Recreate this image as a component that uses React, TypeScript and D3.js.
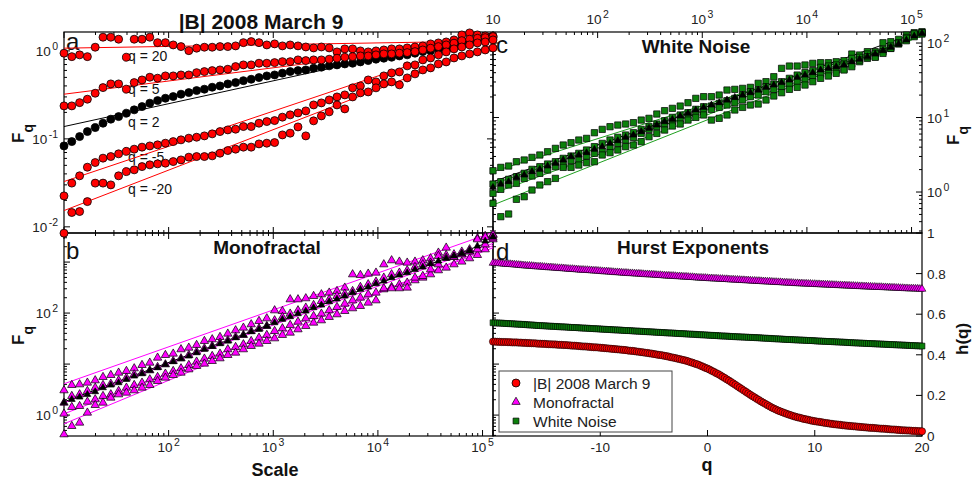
import React from "react";
import * as d3 from "d3";

// ---------- data ----------
const scales = [10, 11.87, 14.1, 16.73, 19.87, 23.59, 28.02, 33.26, 39.49, 46.89, 55.68, 66.07, 78.43, 93.12, 110.6, 131.3, 155.9, 185.1, 219.7, 260.9, 309.7, 367.7, 436.5, 518.2, 615.3, 730.5, 867.3, 1030, 1223, 1451, 1723, 2046, 2429, 2884, 3424, 4065, 4826, 5730, 6803, 8077, 9590, 11386, 13517, 16049, 19055, 22618, 26856, 31886, 37857, 44947, 53364, 63358, 75223, 89316, 106040, 125893];

// panel a: |B| 2008 March 9, log10 F_q
const aQ20 = [-0.026, -0.065, -0.045, -0.065, 0.042, 0.156, 0.156, 0.133, -0.072, 0.133, 0.133, 0.156, 0.094, 0.094, 0.068, 0.049, 0.003, 0.031, 0.042, 0.042, 0.049, 0.049, 0.057, 0.094, 0.106, 0.094, 0.068, 0.080, 0.057, 0.068, 0.057, 0.045, 0.034, 0.045, 0.034, -0.011, 0.023, 0.023, 0.000, -0.011, 0.000, 0.011, 0.023, 0.023, 0.034, 0.045, 0.057, 0.080, 0.091, 0.102, 0.125, 0.182, 0.205, 0.182, 0.170, 0.170];
const aQ5 = [-0.625, -0.625, -0.588, -0.549, -0.481, -0.417, -0.375, -0.375, -0.435, -0.360, -0.330, -0.299, -0.310, -0.284, -0.284, -0.273, -0.273, -0.247, -0.235, -0.224, -0.216, -0.208, -0.178, -0.159, -0.159, -0.140, -0.140, -0.133, -0.122, -0.122, -0.102, -0.110, -0.102, -0.102, -0.094, -0.083, -0.072, -0.065, -0.057, -0.057, -0.045, -0.034, -0.034, -0.026, -0.019, -0.008, 0.011, 0.031, 0.049, 0.068, 0.088, 0.117, 0.133, 0.144, 0.151, 0.163];
const aQ2 = [-1.080, -1.031, -0.974, -0.917, -0.872, -0.822, -0.776, -0.747, -0.708, -0.670, -0.633, -0.594, -0.565, -0.538, -0.519, -0.492, -0.474, -0.451, -0.435, -0.413, -0.398, -0.375, -0.360, -0.338, -0.322, -0.303, -0.284, -0.273, -0.253, -0.235, -0.224, -0.216, -0.197, -0.185, -0.170, -0.159, -0.148, -0.140, -0.125, -0.110, -0.094, -0.083, -0.072, -0.057, -0.045, -0.026, -0.008, 0.003, 0.019, 0.031, 0.049, 0.080, 0.106, 0.125, 0.140, 0.151];
const aQm5 = [-1.648, -1.503, -1.420, -1.322, -1.269, -1.219, -1.201, -1.170, -1.142, -1.117, -1.094, -1.080, -1.068, -1.049, -1.031, -1.011, -0.992, -0.981, -0.966, -0.943, -0.917, -0.898, -0.890, -0.860, -0.860, -0.822, -0.803, -0.792, -0.753, -0.727, -0.705, -0.682, -0.614, -0.591, -0.557, -0.523, -0.500, -0.420, -0.398, -0.330, -0.352, -0.284, -0.250, -0.239, -0.170, -0.159, -0.102, -0.080, -0.045, -0.011, 0.023, 0.045, 0.068, 0.091, 0.102, 0.125];
const aQm20 = [-2.072, -1.837, -1.826, -1.713, -1.503, -1.503, -1.523, -1.420, -1.372, -1.352, -1.315, -1.295, -1.284, -1.276, -1.258, -1.239, -1.208, -1.201, -1.201, -1.193, -1.163, -1.133, -1.117, -1.094, -1.094, -1.057, -1.049, -1.042, -0.955, -0.935, -0.864, -0.966, -0.795, -0.739, -0.693, -0.614, -0.659, -0.523, -0.477, -0.466, -0.420, -0.375, -0.352, -0.386, -0.307, -0.261, -0.216, -0.193, -0.148, -0.125, -0.080, -0.057, -0.034, -0.011, 0.011, 0.034];

// panel b: Monofractal, log10 F_q
const bQ20 = [0.484, 0.588, 0.601, 0.634, 0.680, 0.745, 0.784, 0.830, 0.863, 0.915, 0.980, 1.026, 1.124, 1.176, 1.203, 1.288, 1.320, 1.373, 1.451, 1.484, 1.529, 1.595, 1.660, 1.712, 1.778, 1.843, 1.895, 2.052, 2.039, 2.268, 2.268, 2.288, 2.333, 2.366, 2.399, 2.431, 2.497, 2.758, 2.745, 2.771, 2.791, 2.954, 3.033, 3.007, 2.987, 3.007, 3.033, 3.072, 3.183, 3.281, 3.150, 3.203, 3.248, 3.464, 3.510, 3.542];
const bQ5 = [0.242, 0.373, 0.405, 0.471, 0.536, 0.588, 0.614, 0.680, 0.732, 0.797, 0.830, 0.876, 0.941, 0.993, 1.059, 1.111, 1.176, 1.242, 1.307, 1.353, 1.418, 1.464, 1.529, 1.569, 1.647, 1.699, 1.745, 1.856, 1.922, 1.987, 2.052, 2.105, 2.157, 2.235, 2.268, 2.333, 2.379, 2.431, 2.510, 2.562, 2.614, 2.693, 2.758, 2.791, 2.837, 2.902, 2.954, 2.987, 3.118, 3.137, 3.098, 3.163, 3.216, 3.444, 3.490, 3.529];
const bQ2 = [0.242, 0.307, 0.353, 0.405, 0.458, 0.536, 0.588, 0.634, 0.699, 0.765, 0.810, 0.876, 0.928, 0.993, 1.046, 1.105, 1.157, 1.222, 1.288, 1.346, 1.399, 1.451, 1.516, 1.569, 1.634, 1.680, 1.745, 1.810, 1.876, 1.928, 1.987, 2.039, 2.105, 2.157, 2.222, 2.275, 2.333, 2.399, 2.464, 2.510, 2.575, 2.627, 2.693, 2.745, 2.791, 2.856, 2.902, 2.967, 3.020, 3.072, 3.118, 3.163, 3.216, 3.314, 3.412, 3.490];
const bQm5 = [0.026, 0.157, 0.176, 0.261, 0.307, 0.373, 0.405, 0.471, 0.536, 0.588, 0.634, 0.699, 0.745, 0.810, 0.863, 0.915, 0.980, 1.046, 1.105, 1.157, 1.203, 1.288, 1.333, 1.386, 1.451, 1.516, 1.569, 1.647, 1.699, 1.765, 1.830, 1.895, 1.941, 1.987, 2.052, 2.118, 2.183, 2.248, 2.301, 2.366, 2.399, 2.464, 2.510, 2.562, 2.595, 2.641, 2.693, 2.758, 2.837, 2.889, 2.954, 3.007, 3.072, 3.137, 3.248, 3.444];
const bQm20 = [-0.379, -0.216, -0.150, 0.046, 0.196, 0.242, 0.340, 0.405, 0.438, 0.484, 0.536, 0.588, 0.667, 0.732, 0.784, 0.830, 0.895, 0.961, 1.007, 1.059, 1.111, 1.176, 1.222, 1.288, 1.353, 1.399, 1.451, 1.503, 1.569, 1.614, 1.680, 1.745, 1.810, 1.856, 1.922, 1.974, 2.039, 2.092, 2.137, 2.203, 2.248, 2.484, 2.484, 2.484, 2.497, 2.693, 2.725, 2.856, 2.954, 3.085, 3.098, 3.150, 3.203, 3.248, 3.346, 3.477];

// panel c: White Noise, log10 F_q
const cQ20 = [0.286, 0.331, 0.349, 0.407, 0.430, 0.465, 0.497, 0.541, 0.586, 0.631, 0.662, 0.698, 0.720, 0.796, 0.841, 0.877, 0.899, 0.913, 0.931, 0.966, 0.989, 1.047, 1.092, 1.123, 1.154, 1.199, 1.257, 1.280, 1.280, 1.302, 1.369, 1.378, 1.391, 1.405, 1.459, 1.481, 1.548, 1.660, 1.691, 1.691, 1.705, 1.727, 1.736, 1.736, 1.749, 1.763, 1.852, 1.839, 1.884, 1.884, 2.004, 2.018, 2.049, 2.107, 2.139, 2.152];
const cQ5 = [0.107, 0.139, 0.170, 0.206, 0.251, 0.304, 0.340, 0.376, 0.407, 0.452, 0.483, 0.519, 0.564, 0.609, 0.653, 0.698, 0.734, 0.765, 0.796, 0.841, 0.877, 0.913, 0.957, 1.002, 1.034, 1.065, 1.110, 1.145, 1.154, 1.190, 1.226, 1.257, 1.302, 1.347, 1.369, 1.414, 1.450, 1.481, 1.526, 1.570, 1.602, 1.629, 1.673, 1.691, 1.705, 1.718, 1.794, 1.808, 1.852, 1.861, 1.915, 1.960, 2.004, 2.076, 2.121, 2.139];
const cQ2 = [0.063, 0.107, 0.139, 0.197, 0.228, 0.273, 0.304, 0.349, 0.385, 0.430, 0.474, 0.497, 0.528, 0.573, 0.609, 0.653, 0.689, 0.734, 0.765, 0.810, 0.855, 0.899, 0.944, 0.975, 1.020, 1.056, 1.101, 1.136, 1.168, 1.199, 1.235, 1.271, 1.302, 1.333, 1.369, 1.405, 1.436, 1.468, 1.503, 1.539, 1.570, 1.602, 1.638, 1.660, 1.682, 1.705, 1.749, 1.781, 1.817, 1.852, 1.897, 1.942, 1.987, 2.040, 2.094, 2.130];
const cQm5 = [-0.018, 0.036, 0.094, 0.116, 0.183, 0.215, 0.251, 0.295, 0.340, 0.362, 0.421, 0.430, 0.483, 0.519, 0.541, 0.600, 0.653, 0.698, 0.734, 0.787, 0.841, 0.877, 0.913, 0.944, 0.975, 1.020, 1.056, 1.078, 1.110, 1.136, 1.168, 1.199, 1.235, 1.280, 1.302, 1.347, 1.378, 1.414, 1.450, 1.481, 1.512, 1.548, 1.584, 1.615, 1.638, 1.647, 1.718, 1.749, 1.794, 1.817, 1.884, 1.928, 1.987, 2.031, 2.085, 2.121];
const cQm20 = [-0.152, -0.331, -0.295, -0.098, -0.063, 0.027, 0.094, 0.139, 0.183, 0.331, 0.331, 0.362, 0.394, 0.407, 0.497, 0.528, 0.564, 0.609, 0.631, 0.676, 0.743, 0.787, 0.832, 0.886, 0.913, 0.966, 1.002, 1.034, 0.966, 0.989, 1.034, 1.101, 1.136, 1.168, 1.181, 1.235, 1.289, 1.333, 1.378, 1.405, 1.436, 1.481, 1.526, 1.557, 1.593, 1.638, 1.682, 1.772, 1.817, 1.808, 1.861, 1.928, 1.996, 2.063, 2.121, 2.139];

// fitted lines: log10 F at the smallest scale, and slope (Hurst exponent); order q = 20, 5, 2, -5, -20
const fitQ = ["20", "5", "2", "-5", "-20"];
const aFitStart = [0.031, -0.492, -0.86, -1.485, -1.815];
const aFitSlope = [0.02, 0.15, 0.26, 0.40, 0.46];
const bFitStart = [0.614, 0.241, 0.26, 0.025, -0.171];
const bFitSlope = [0.724, 0.762, 0.771, 0.794, 0.852];
const cFitStart = [0.273, 0.107, 0.139, -0.018, -0.174];
const cFitSlope = [0.443, 0.485, 0.493, 0.515, 0.558];

// panel d: Hurst exponents h(q)
const qValues = [
  -20, -19.8, -19.6, -19.4, -19.2, -19, -18.8, -18.6, -18.4, -18.2,
  -18, -17.8, -17.6, -17.4, -17.2, -17, -16.8, -16.6, -16.4, -16.2,
  -16, -15.8, -15.6, -15.4, -15.2, -15, -14.8, -14.6, -14.4, -14.2,
  -14, -13.8, -13.6, -13.4, -13.2, -13, -12.8, -12.6, -12.4, -12.2,
  -12, -11.8, -11.6, -11.4, -11.2, -11, -10.8, -10.6, -10.4, -10.2,
  -10, -9.8, -9.6, -9.4, -9.2, -9, -8.8, -8.6, -8.4, -8.2,
  -8, -7.8, -7.6, -7.4, -7.2, -7, -6.8, -6.6, -6.4, -6.2,
  -6, -5.8, -5.6, -5.4, -5.2, -5, -4.8, -4.6, -4.4, -4.2,
  -4, -3.8, -3.6, -3.4, -3.2, -3, -2.8, -2.6, -2.4, -2.2,
  -2, -1.8, -1.6, -1.4, -1.2, -1, -0.8, -0.6, -0.4, -0.2,
  0, 0.2, 0.4, 0.6, 0.8, 1, 1.2, 1.4, 1.6, 1.8,
  2, 2.2, 2.4, 2.6, 2.8, 3, 3.2, 3.4, 3.6, 3.8,
  4, 4.2, 4.4, 4.6, 4.8, 5, 5.2, 5.4, 5.6, 5.8,
  6, 6.2, 6.4, 6.6, 6.8, 7, 7.2, 7.4, 7.6, 7.8,
  8, 8.2, 8.4, 8.6, 8.8, 9, 9.2, 9.4, 9.6, 9.8,
  10, 10.2, 10.4, 10.6, 10.8, 11, 11.2, 11.4, 11.6, 11.8,
  12, 12.2, 12.4, 12.6, 12.8, 13, 13.2, 13.4, 13.6, 13.8,
  14, 14.2, 14.4, 14.6, 14.8, 15, 15.2, 15.4, 15.6, 15.8,
  16, 16.2, 16.4, 16.6, 16.8, 17, 17.2, 17.4, 17.6, 17.8,
  18, 18.2, 18.4, 18.6, 18.8, 19, 19.2, 19.4, 19.6, 19.8,
  20];
const hField = [
  0.465, 0.465, 0.464, 0.464, 0.463, 0.463, 0.463, 0.462, 0.462, 0.461,
  0.461, 0.461, 0.460, 0.460, 0.459, 0.459, 0.458, 0.458, 0.457, 0.457,
  0.456, 0.455, 0.455, 0.454, 0.454, 0.453, 0.452, 0.452, 0.451, 0.451,
  0.450, 0.449, 0.449, 0.448, 0.448, 0.447, 0.446, 0.445, 0.445, 0.444,
  0.443, 0.442, 0.441, 0.441, 0.440, 0.439, 0.438, 0.437, 0.437, 0.436,
  0.435, 0.434, 0.433, 0.432, 0.431, 0.430, 0.429, 0.428, 0.427, 0.426,
  0.425, 0.424, 0.423, 0.421, 0.420, 0.419, 0.418, 0.416, 0.415, 0.413,
  0.412, 0.410, 0.409, 0.407, 0.406, 0.404, 0.402, 0.400, 0.399, 0.397,
  0.395, 0.393, 0.391, 0.388, 0.386, 0.384, 0.381, 0.379, 0.376, 0.374,
  0.371, 0.368, 0.364, 0.361, 0.357, 0.354, 0.350, 0.345, 0.341, 0.336,
  0.332, 0.327, 0.321, 0.316, 0.310, 0.305, 0.299, 0.292, 0.286, 0.279,
  0.273, 0.266, 0.259, 0.252, 0.245, 0.238, 0.231, 0.224, 0.217, 0.210,
  0.203, 0.196, 0.190, 0.183, 0.177, 0.170, 0.164, 0.158, 0.152, 0.146,
  0.140, 0.135, 0.130, 0.125, 0.121, 0.117, 0.113, 0.109, 0.105, 0.102,
  0.098, 0.095, 0.092, 0.090, 0.087, 0.084, 0.082, 0.080, 0.077, 0.075,
  0.073, 0.071, 0.070, 0.068, 0.066, 0.064, 0.063, 0.061, 0.060, 0.058,
  0.057, 0.056, 0.055, 0.053, 0.052, 0.051, 0.050, 0.049, 0.048, 0.047,
  0.046, 0.045, 0.044, 0.043, 0.042, 0.041, 0.040, 0.040, 0.039, 0.038,
  0.037, 0.036, 0.036, 0.035, 0.034, 0.033, 0.032, 0.032, 0.031, 0.030,
  0.029, 0.028, 0.028, 0.027, 0.027, 0.026, 0.025, 0.025, 0.024, 0.024,
  0.023];
const hMono = [
  0.852, 0.851, 0.851, 0.850, 0.849, 0.848, 0.847, 0.846, 0.846, 0.845,
  0.844, 0.843, 0.842, 0.841, 0.840, 0.839, 0.838, 0.838, 0.837, 0.836,
  0.835, 0.834, 0.834, 0.833, 0.832, 0.831, 0.830, 0.830, 0.829, 0.828,
  0.827, 0.826, 0.826, 0.825, 0.824, 0.823, 0.822, 0.822, 0.821, 0.820,
  0.819, 0.818, 0.818, 0.817, 0.817, 0.816, 0.815, 0.814, 0.814, 0.813,
  0.812, 0.811, 0.810, 0.810, 0.809, 0.808, 0.807, 0.806, 0.806, 0.805,
  0.804, 0.803, 0.803, 0.802, 0.801, 0.801, 0.800, 0.799, 0.799, 0.798,
  0.797, 0.796, 0.796, 0.795, 0.795, 0.794, 0.793, 0.792, 0.792, 0.791,
  0.790, 0.789, 0.789, 0.788, 0.788, 0.787, 0.786, 0.786, 0.785, 0.784,
  0.784, 0.783, 0.782, 0.782, 0.781, 0.780, 0.779, 0.779, 0.778, 0.778,
  0.777, 0.776, 0.776, 0.775, 0.775, 0.774, 0.773, 0.773, 0.772, 0.772,
  0.771, 0.770, 0.770, 0.769, 0.769, 0.768, 0.767, 0.767, 0.766, 0.766,
  0.765, 0.764, 0.764, 0.763, 0.763, 0.762, 0.761, 0.761, 0.760, 0.760,
  0.759, 0.758, 0.758, 0.757, 0.757, 0.756, 0.755, 0.755, 0.754, 0.754,
  0.753, 0.752, 0.752, 0.751, 0.751, 0.750, 0.750, 0.749, 0.749, 0.748,
  0.748, 0.747, 0.747, 0.746, 0.746, 0.745, 0.745, 0.744, 0.744, 0.743,
  0.743, 0.742, 0.742, 0.741, 0.741, 0.740, 0.740, 0.739, 0.739, 0.738,
  0.738, 0.737, 0.737, 0.736, 0.736, 0.735, 0.735, 0.734, 0.734, 0.733,
  0.733, 0.733, 0.732, 0.732, 0.731, 0.731, 0.730, 0.730, 0.729, 0.729,
  0.728, 0.728, 0.727, 0.727, 0.726, 0.726, 0.726, 0.725, 0.725, 0.724,
  0.724];
const hNoise = [
  0.558, 0.557, 0.557, 0.556, 0.556, 0.555, 0.554, 0.554, 0.553, 0.553,
  0.552, 0.551, 0.551, 0.550, 0.550, 0.549, 0.548, 0.547, 0.547, 0.546,
  0.545, 0.544, 0.544, 0.543, 0.543, 0.542, 0.541, 0.541, 0.540, 0.540,
  0.539, 0.538, 0.538, 0.537, 0.537, 0.536, 0.535, 0.535, 0.534, 0.534,
  0.533, 0.532, 0.532, 0.531, 0.531, 0.530, 0.529, 0.529, 0.528, 0.528,
  0.527, 0.526, 0.526, 0.525, 0.525, 0.524, 0.523, 0.523, 0.522, 0.522,
  0.521, 0.520, 0.520, 0.519, 0.519, 0.518, 0.517, 0.517, 0.516, 0.516,
  0.515, 0.514, 0.514, 0.513, 0.513, 0.512, 0.511, 0.511, 0.510, 0.510,
  0.509, 0.508, 0.508, 0.507, 0.507, 0.506, 0.505, 0.505, 0.504, 0.504,
  0.503, 0.502, 0.502, 0.501, 0.501, 0.500, 0.499, 0.499, 0.498, 0.498,
  0.497, 0.496, 0.496, 0.495, 0.495, 0.494, 0.493, 0.493, 0.492, 0.492,
  0.491, 0.490, 0.490, 0.489, 0.489, 0.488, 0.488, 0.487, 0.487, 0.486,
  0.486, 0.485, 0.485, 0.484, 0.484, 0.483, 0.482, 0.482, 0.481, 0.481,
  0.480, 0.479, 0.479, 0.478, 0.478, 0.477, 0.476, 0.476, 0.475, 0.475,
  0.474, 0.474, 0.473, 0.473, 0.472, 0.472, 0.471, 0.471, 0.470, 0.470,
  0.469, 0.468, 0.468, 0.467, 0.467, 0.466, 0.466, 0.465, 0.465, 0.464,
  0.464, 0.463, 0.463, 0.462, 0.462, 0.461, 0.460, 0.460, 0.459, 0.459,
  0.458, 0.458, 0.457, 0.457, 0.456, 0.456, 0.455, 0.455, 0.454, 0.454,
  0.453, 0.453, 0.452, 0.452, 0.451, 0.451, 0.450, 0.450, 0.449, 0.449,
  0.448, 0.448, 0.447, 0.447, 0.446, 0.446, 0.445, 0.445, 0.444, 0.444,
  0.443];

const legendLabels = ["|B| 2008 March 9", "Monofractal", "White Noise"];
const dBottomTicks = [-20, -10, 0, 10, 20];
const dBottomLabels = ["", "-10", "0", "10", "20"];
const dRightTicks = [0, 0.2, 0.4, 0.6, 0.8, 1];
const dRightLabels = ["0", "0.2", "0.4", "0.6", "0.8", "1"];

const FONT = "'Liberation Sans', Arial, Helvetica, sans-serif";
const RED = "#ff0000";
const MAG = "#ff00ff";
const GRN = "#0b800b";
const GRN_LINE = "#1fa01f";

function Pow({ x, y, exp, anchor }: { x: number; y: number; exp: string; anchor: string }) {
  return (
    <text x={x} y={y} textAnchor={anchor} fontSize={13.5} fill="#222" fontFamily={FONT}>
      10
      {exp !== "" && (
        <tspan dx={1.5} dy={-6} fontSize={10.5}>
          {exp}
        </tspan>
      )}
    </text>
  );
}

export default function App() {
  const L = 64, M = 493, R = 922, T = 32, MID = 233, B = 436;
  const xA = d3.scaleLog().domain([10, 125893]).range([L, M]);
  const xC = d3.scaleLog().domain([10, 125893]).range([M, R]);
  const yA = d3.scaleLog().domain([Math.pow(10, -2.07), Math.pow(10, 0.215)]).range([MID, T]);
  const yB = d3.scaleLog().domain([Math.pow(10, -0.41), Math.pow(10, 3.57)]).range([B, MID]);
  const yC = d3.scaleLog().domain([Math.pow(10, -0.55), Math.pow(10, 2.148)]).range([MID, T]);
  const xD = d3.scaleLinear().domain([-20, 20]).range([M, R]);
  const yD = d3.scaleLinear().domain([0, 1]).range([B, MID]);

  const logTicks = (s: any) =>
    s.ticks().map((v: number) => {
      const e = Math.log10(v);
      return { v, major: Math.abs(e - Math.round(e)) < 1e-6, e: Math.round(e) };
    });

  const vTicks = (s: any, x0: number, dir: number, key: string) =>
    logTicks(s).map((t: any, i: number) => (
      <line key={key + i} x1={x0} x2={x0 + dir * (t.major ? 6 : 3)} y1={s(t.v)} y2={s(t.v)} stroke="#000" strokeWidth={1} />
    ));
  const hTicks = (s: any, y0: number, dir: number, key: string) =>
    logTicks(s).map((t: any, i: number) => (
      <line key={key + i} y1={y0} y2={y0 + dir * (t.major ? 6 : 3)} x1={s(t.v)} x2={s(t.v)} stroke="#000" strokeWidth={1} />
    ));

  const tri = d3.symbol(d3.symbolTriangle, 30)() as string;
  const triK = d3.symbol(d3.symbolTriangle, 20)() as string;
  const sq = d3.symbol(d3.symbolSquare, 40)() as string;
  const triD = d3.symbol(d3.symbolTriangle, 26)() as string;
  const sqD = d3.symbol(d3.symbolSquare, 34)() as string;

  const circles = (vals: number[], xS: any, yS: any, fill: string, key: string) =>
    vals.map((v, i) => (
      <circle key={key + i} cx={xS(scales[i])} cy={yS(Math.pow(10, v))} r={4} fill={fill} stroke="#000" strokeWidth={0.8} />
    ));
  const symbols = (vals: number[], xS: any, yS: any, d: string, fill: string, key: string) =>
    vals.map((v, i) => (
      <path key={key + i} d={d} transform={`translate(${xS(scales[i])},${yS(Math.pow(10, v))})`} fill={fill} stroke="#000" strokeWidth={0.7} />
    ));

  const fitPath = (start: number, slope: number, xS: any, yS: any) => {
    const s0 = scales[0];
    const s1 = scales[scales.length - 1];
    const f = (s: number) => Math.pow(10, start + slope * (Math.log10(s) - 1));
    return d3.line()([
      [xS(s0), yS(f(s0))],
      [xS(s1), yS(f(s1))],
    ]) as string;
  };

  const aSeries = [aQ20, aQ5, aQ2, aQm5, aQm20];
  const bSeries = [bQ20, bQ5, bQ2, bQm5, bQm20];
  const cSeries = [cQ20, cQ5, cQ2, cQm5, cQm20];

  const aTickLabels = logTicks(yA).filter((t: any) => t.major);
  const bTickLabels = logTicks(yB).filter((t: any) => t.major && t.e % 2 === 0);
  const cTickLabels = logTicks(yC).filter((t: any) => t.major);
  const xTickLabels = logTicks(xA).filter((t: any) => t.major);

  const qLabelY = [61, 94, 127, 162, 194];

  return (
    <div style={{ position: "absolute", left: 0, top: 0 }}>
      <svg width={974} height={484} style={{ display: "block", background: "#fff" }} fontFamily={FONT}>
        <defs>
          <clipPath id="clipA"><rect x={L} y={T} width={M - L} height={MID - T} /></clipPath>
          <clipPath id="clipB"><rect x={L} y={MID} width={M - L} height={B - MID} /></clipPath>
          <clipPath id="clipC"><rect x={M} y={T} width={R - M} height={MID - T} /></clipPath>
        </defs>

        {/* titles */}
        <text x={261} y={29} textAnchor="middle" fontSize={21} fontWeight="bold" fill="#111">|B| 2008 March 9</text>
        <text x={267} y={254} textAnchor="middle" fontSize={19} fontWeight="bold" fill="#111">Monofractal</text>
        <text x={696} y={53} textAnchor="middle" fontSize={19} fontWeight="bold" fill="#111">White Noise</text>
        <text x={693} y={254} textAnchor="middle" fontSize={19} fontWeight="bold" fill="#111">Hurst Exponents</text>

        {/* panel letters */}
        <text x={66} y={50} fontSize={24} fill="#111">a</text>
        <text x={66} y={259} fontSize={24} fill="#111">b</text>
        <text x={496} y={53} fontSize={24} fill="#111">c</text>
        <text x={496} y={260} fontSize={24} fill="#111">d</text>

        {/* q labels panel a */}
        {fitQ.map((q, i) => (
          <text key={"ql" + i} x={128} y={qLabelY[i]} fontSize={14} fill="#111">{`q = ${q}`}</text>
        ))}

        {/* axis titles */}
        <text transform="translate(24,143) rotate(-90)" fontSize={17} fontWeight="bold" fill="#111">F<tspan dy={9} fontSize={14}>q</tspan></text>
        <text transform="translate(24,345) rotate(-90)" fontSize={17} fontWeight="bold" fill="#111">F<tspan dy={9} fontSize={14}>q</tspan></text>
        <text transform="translate(959,145) rotate(-90)" fontSize={17} fontWeight="bold" fill="#111">F<tspan dy={9} fontSize={14}>q</tspan></text>
        <text transform="translate(968,355) rotate(-90)" fontSize={17} fontWeight="bold" fill="#111">h(q)</text>
        <text x={275} y={476} textAnchor="middle" fontSize={18} fontWeight="bold" fill="#111">Scale</text>
        <text x={707} y={471} textAnchor="middle" fontSize={18} fontWeight="bold" fill="#111">q</text>

        {/* tick labels */}
        {aTickLabels.map((t: any, i: number) => (
          <Pow key={"yal" + i} x={58} y={yA(t.v) + 5} exp={String(t.e)} anchor="end" />
        ))}
        {bTickLabels.map((t: any, i: number) => (
          <Pow key={"ybl" + i} x={58} y={yB(t.v) + 5} exp={String(t.e)} anchor="end" />
        ))}
        {cTickLabels.map((t: any, i: number) => (
          <Pow key={"ycl" + i} x={927} y={yC(t.v) + 5} exp={String(t.e)} anchor="start" />
        ))}
        {xTickLabels.filter((t: any) => t.e >= 2).map((t: any, i: number) => (
          <Pow key={"xbl" + i} x={xA(t.v)} y={452} exp={String(t.e)} anchor="middle" />
        ))}
        {xTickLabels.map((t: any, i: number) => (
          <Pow key={"xcl" + i} x={xC(t.v)} y={24} exp={t.e === 1 ? "" : String(t.e)} anchor="middle" />
        ))}
        {dBottomTicks.map((v, i) => (
          <text key={"xdl" + i} x={xD(v)} y={452} textAnchor="middle" fontSize={13.5} fill="#222">{dBottomLabels[i]}</text>
        ))}
        {dRightTicks.map((v, i) => (
          <text key={"ydl" + i} x={927} y={yD(v) + 5} fontSize={13.5} fill="#222">{dRightLabels[i]}</text>
        ))}

        {/* frames */}
        <rect x={L} y={T} width={M - L} height={MID - T} fill="none" stroke="#000" strokeWidth={1.2} />
        <rect x={L} y={MID} width={M - L} height={B - MID} fill="none" stroke="#000" strokeWidth={1.2} />
        <rect x={M} y={T} width={R - M} height={MID - T} fill="none" stroke="#000" strokeWidth={1.2} />
        <rect x={M} y={MID} width={R - M} height={B - MID} fill="none" stroke="#000" strokeWidth={1.2} />

        {/* ticks */}
        {vTicks(yA, L, 1, "ta1")}
        {vTicks(yA, M, -1, "ta2")}
        {hTicks(xA, T, 1, "ta3")}
        {hTicks(xA, MID, -1, "ta4")}
        {vTicks(yB, L, 1, "tb1")}
        {vTicks(yB, M, 1, "tb2")}
        {hTicks(xA, MID, 1, "tb3")}
        {hTicks(xA, B, -1, "tb4")}
        {vTicks(yC, M, 1, "tc1")}
        {vTicks(yC, R, -1, "tc2")}
        {hTicks(xC, T, 1, "tc3")}
        {hTicks(xC, MID, -1, "tc4")}
        {dBottomTicks.map((v, i) => (
          <line key={"td1" + i} x1={xD(v)} x2={xD(v)} y1={B} y2={B - 6} stroke="#000" />
        ))}
        {dRightTicks.map((v, i) => (
          <line key={"td2" + i} x1={R} x2={R - 6} y1={yD(v)} y2={yD(v)} stroke="#000" />
        ))}

        {/* panel a */}
        <g clipPath="url(#clipA)">
          {aSeries.map((_, i) => (
            <path key={"fa" + i} d={fitPath(aFitStart[i], aFitSlope[i], xA, yA)} stroke={i === 2 ? "#000" : RED} strokeWidth={1} fill="none" />
          ))}
        </g>
        {circles(aQ2, xA, yA, "#000", "pa2")}
        {circles(aQ20, xA, yA, RED, "pa20")}
        {circles(aQ5, xA, yA, RED, "pa5")}
        {circles(aQm5, xA, yA, RED, "pam5")}
        {circles(aQm20, xA, yA, RED, "pam20")}

        {/* panel b */}
        <g clipPath="url(#clipB)">
          {bSeries.map((_, i) => (
            <path key={"fb" + i} d={fitPath(bFitStart[i], bFitSlope[i], xA, yB)} stroke={i === 2 ? "#000" : MAG} strokeWidth={1} fill="none" />
          ))}
        </g>
        {symbols(bQ20, xA, yB, tri, MAG, "pb20")}
        {symbols(bQ5, xA, yB, tri, MAG, "pb5")}
        {symbols(bQm5, xA, yB, tri, MAG, "pbm5")}
        {symbols(bQm20, xA, yB, tri, MAG, "pbm20")}
        {symbols(bQ2, xA, yB, triK, "#000", "pb2")}

        {/* panel c */}
        <g clipPath="url(#clipC)">
          {cSeries.map((_, i) => (
            <path key={"fc" + i} d={fitPath(cFitStart[i], cFitSlope[i], xC, yC)} stroke={i === 2 ? "#000" : GRN_LINE} strokeWidth={1} fill="none" />
          ))}
        </g>
        {symbols(cQ20, xC, yC, sq, GRN, "pc20")}
        {symbols(cQ5, xC, yC, sq, GRN, "pc5")}
        {symbols(cQm5, xC, yC, sq, GRN, "pcm5")}
        {symbols(cQm20, xC, yC, sq, GRN, "pcm20")}
        {symbols(cQ2, xC, yC, triK, "#000", "pc2")}

        {/* panel d */}
        {qValues.map((q, i) => (
          <path key={"dm" + i} d={triD} transform={`translate(${xD(q)},${yD(hMono[i])})`} fill={MAG} stroke="#000" strokeWidth={0.6} />
        ))}
        {qValues.map((q, i) => (
          <path key={"dn" + i} d={sqD} transform={`translate(${xD(q)},${yD(hNoise[i])})`} fill={GRN} stroke="#000" strokeWidth={0.6} />
        ))}
        {qValues.map((q, i) => (
          <circle key={"df" + i} cx={xD(q)} cy={yD(hField[i])} r={3.6} fill={RED} stroke="#000" strokeWidth={0.6} />
        ))}

        {/* legend */}
        <rect x={499} y={371} width={173} height={61} fill="#fff" stroke="#444" strokeWidth={1} />
        <circle cx={516} cy={383} r={4} fill={RED} stroke="#000" strokeWidth={0.8} />
        <path d={tri} transform="translate(516,402)" fill={MAG} stroke="#000" strokeWidth={0.7} />
        <path d={sqD} transform="translate(516,421)" fill={GRN} stroke="#000" strokeWidth={0.7} />
        {legendLabels.map((s, i) => (
          <text key={"lg" + i} x={533} y={388.5 + i * 19} fontSize={15.5} fill="#222">{s}</text>
        ))}
      </svg>
    </div>
  );
}
